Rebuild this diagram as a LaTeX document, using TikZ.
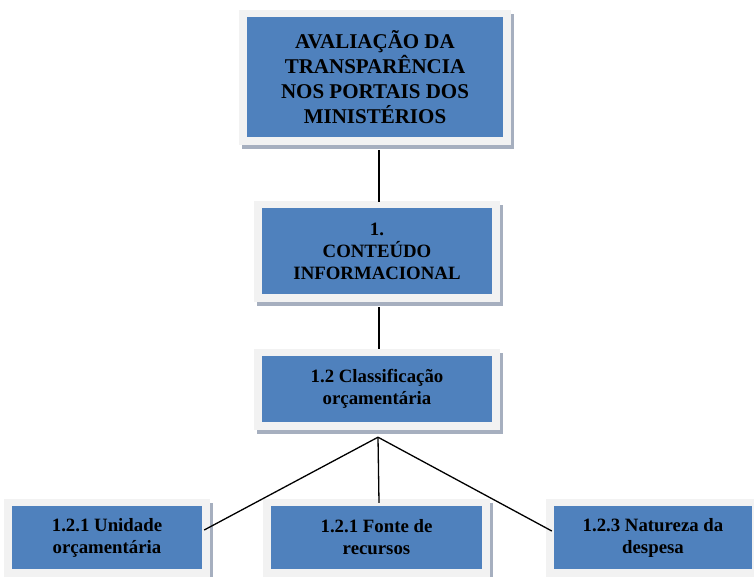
\documentclass[tikz,border=0pt]{standalone}
\usepackage{fontspec}
\setmainfont{Liberation Serif}
\definecolor{boxblue}{HTML}{4F81BD}
\definecolor{framec}{HTML}{F2F2F2}
\definecolor{shadowc}{HTML}{A6AFBF}
\pgfdeclarelayer{frames}
\pgfsetlayers{frames,main}
\tikzset{
  box/.style={fill=boxblue, draw=none, align=center, inner sep=0pt, font=\bfseries\fontsize{18.8}{22}\selectfont},
  bigbox/.style={box, font=\bfseries\fontsize{21}{25}\selectfont},
  link/.style={draw=black, line width=1.3pt}
}
\begin{document}
\begin{tikzpicture}[x=1pt,y=-1pt]
\useasboundingbox (0,0) rectangle (754,577);
\clip (0,0) rectangle (754,577);
\node[bigbox, minimum width=256pt, minimum height=120pt] (top) at (375,77) {AVALIAÇÃO DA\\TRANSPARÊNCIA\\NOS PORTAIS DOS\\MINISTÉRIOS};
\node[box, minimum width=230pt, minimum height=86pt] (c1) at (377,251) {1.\\CONTEÚDO\\INFORMACIONAL};
\node[box, minimum width=230pt, minimum height=66pt] (c12) at (377,389) {1.2 Classificação\\orçamentária};
\node[box, minimum width=190pt, minimum height=63pt] (b4) at (107,537.5) {1.2.1 Unidade\\orçamentária};
\node[box, minimum width=211pt, minimum height=63pt] (b5) at (376.5,537.5) {1.2.1 Fonte de\\recursos};
\node[box, minimum width=198pt, minimum height=63pt] (b6) at (653,537.5) {1.2.3 Natureza da\\despesa};
\begin{pgfonlayer}{frames}
\fill[white] (0,0) rectangle (754,577);
\foreach \n in {top,c1,c12,b4,b5,b6}{
  \fill[shadowc] ([shift={(-5pt,3pt)}]\n.north west) rectangle ([shift={(11pt,-12pt)}]\n.south east);
  \fill[framec] ([shift={(-8pt,7pt)}]\n.north west) rectangle ([shift={(8pt,-8pt)}]\n.south east);
}
\end{pgfonlayer}
\coordinate (apex) at ([xshift=1pt,yshift=-15pt]c12.south);
\draw[link] ([xshift=4pt,yshift=-13pt]top.south) -- ([xshift=2pt,yshift=6pt]c1.north);
\draw[link] ([xshift=2pt,yshift=-13pt]c1.south) -- ([xshift=2pt,yshift=7pt]c12.north);
\draw[link] (apex) -- ([xshift=2pt,yshift=7.5pt]b4.east);
\draw[link] (apex) -- ([xshift=2.5pt,yshift=3pt]b5.north);
\draw[link] (apex) -- ([xshift=-2pt,yshift=6.5pt]b6.west);
\end{tikzpicture}
\end{document}
